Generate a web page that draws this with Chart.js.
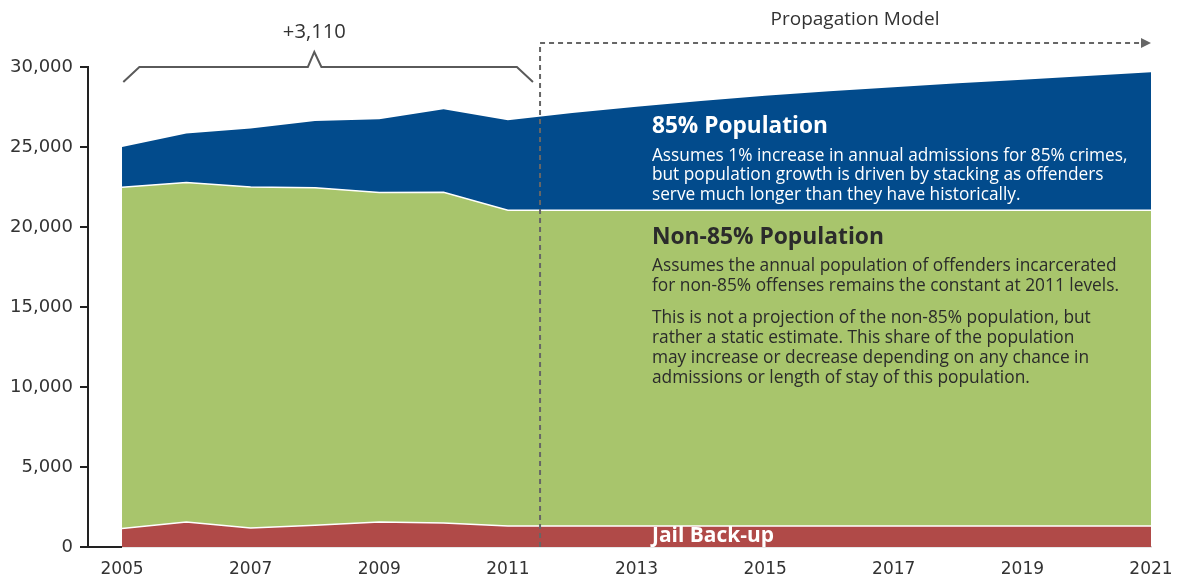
<!DOCTYPE html>
<html>
<head>
<meta charset="utf-8">
<script src="https://cdn.jsdelivr.net/npm/chart.js@4.4.0/dist/chart.umd.min.js"></script>
<style>
  html, body { margin: 0; padding: 0; background: #fff; }
  #wrap { width: 1178px; height: 580px; position: relative; }
</style>
</head>
<body>
<div id="wrap"><canvas id="chart"></canvas></div>
<script>
// years on the x axis and the ones that get a label
const years = [2005, 2006, 2007, 2008, 2009, 2010, 2011, 2012, 2013, 2014, 2015, 2016, 2017, 2018, 2019, 2020, 2021];
const xTickYears = [2005, 2007, 2009, 2011, 2013, 2015, 2017, 2019, 2021];

// stacked series (bottom to top)
const jailBackup = [1150, 1560, 1190, 1360, 1560, 1500, 1310, 1310, 1310, 1310, 1310, 1310, 1310, 1310, 1310, 1310, 1310];
const non85Population = [21330, 21220, 21310, 21100, 20590, 20670, 19740, 19740, 19740, 19740, 19740, 19740, 19740, 19740, 19740, 19740, 19740];
const pop85 = [2520, 3060, 3650, 4170, 4580, 5190, 5620, 6070, 6470, 6830, 7150, 7430, 7680, 7930, 8160, 8390, 8620];

const projectionStart = 2011.5;
const changeLabel = '+3,110';

const BLUE = '#024b8c';
const GREEN = '#a8c56c';
const RED = '#b04a48';
const INK = '#2b2b2b';
const LINE = '#5a5a5a';
const FAMILY = '"Open Sans"';

function pts(arr) {
  return years.map((yr, i) => ({ x: yr, y: arr[i] }));
}

// font string whose size makes `text` span `width` pixels
function fitFont(ctx, text, weight, width) {
  ctx.font = weight + ' 100px ' + FAMILY;
  const size = 100 * width / ctx.measureText(text).width;
  return weight + ' ' + size.toFixed(2) + 'px ' + FAMILY;
}

function drawLines(ctx, lines, x, ys, font, color) {
  ctx.font = font;
  ctx.fillStyle = color;
  ctx.textAlign = 'left';
  ctx.textBaseline = 'middle';
  lines.forEach((t, i) => ctx.fillText(t, x, ys[i]));
}

const annotations = {
  id: 'annotations',
  afterDraw(chart) {
    const ctx = chart.ctx;
    const xs = chart.scales.x, ys = chart.scales.y;
    const area = chart.chartArea;
    ctx.save();

    // short black piece of the base line before the first year
    ctx.strokeStyle = '#222';
    ctx.lineWidth = 2;
    ctx.beginPath();
    ctx.moveTo(area.left, area.bottom);
    ctx.lineTo(xs.getPixelForValue(years[0]), area.bottom);
    ctx.stroke();

    // bracket over the historical years
    const yLow = ys.getPixelForValue(29060);
    const yMid = ys.getPixelForValue(30000);
    const yPeak = ys.getPixelForValue(30940);
    ctx.strokeStyle = LINE;
    ctx.lineWidth = 2;
    ctx.beginPath();
    ctx.moveTo(xs.getPixelForValue(2005.02), yLow);
    ctx.lineTo(xs.getPixelForValue(2005.27), yMid);
    ctx.lineTo(xs.getPixelForValue(2007.89), yMid);
    ctx.lineTo(xs.getPixelForValue(2007.99), yPeak);
    ctx.lineTo(xs.getPixelForValue(2008.10), yMid);
    ctx.lineTo(xs.getPixelForValue(2011.14), yMid);
    ctx.lineTo(xs.getPixelForValue(2011.39), yLow);
    ctx.stroke();

    ctx.fillStyle = '#333';
    ctx.font = fitFont(ctx, changeLabel, 'normal', 63);
    ctx.textAlign = 'center';
    ctx.textBaseline = 'middle';
    ctx.fillText(changeLabel, xs.getPixelForValue(2007.99), 32);

    // projection marker: dashed elbow with arrow
    const px = xs.getPixelForValue(projectionStart);
    const endX = xs.getPixelForValue(years[years.length - 1]);
    const topY = 43;
    ctx.strokeStyle = '#666';
    ctx.lineWidth = 2;
    ctx.setLineDash([5, 4]);
    ctx.beginPath();
    ctx.moveTo(px, area.bottom);
    ctx.lineTo(px, topY);
    ctx.lineTo(endX - 9, topY);
    ctx.stroke();
    ctx.setLineDash([]);
    ctx.fillStyle = '#666';
    ctx.beginPath();
    ctx.moveTo(endX - 10, topY - 5);
    ctx.lineTo(endX, topY);
    ctx.lineTo(endX - 10, topY + 5);
    ctx.closePath();
    ctx.fill();

    ctx.fillStyle = '#333';
    ctx.font = fitFont(ctx, 'Propagation Model', 'normal', 169);
    ctx.textAlign = 'center';
    ctx.fillText('Propagation Model', 855, 19.5);

    // area descriptions
    const tx = xs.getPixelForValue(2013.24);
    const body85 = [
      'Assumes 1% increase in annual admissions for 85% crimes,',
      'but population growth is driven by stacking as offenders',
      'serve much longer than they have historically.'
    ];
    drawLines(ctx, ['85% Population'], tx, [126.5], fitFont(ctx, '85% Population', 'bold', 176), '#fff');
    drawLines(ctx, body85, tx, [156, 175.5, 195], fitFont(ctx, body85[0], 'normal', 476), '#fff');

    const bodyA = [
      'Assumes the annual population of offenders incarcerated',
      'for non-85% offenses remains the constant at 2011 levels.'
    ];
    const bodyB = [
      'This is not a projection of the non-85% population, but',
      'rather a static estimate. This share of the population',
      'may increase or decrease depending on any chance in',
      'admissions or length of stay of this population.'
    ];
    const bodyFont = fitFont(ctx, bodyA[1], 'normal', 467);
    drawLines(ctx, ['Non-85% Population'], tx, [238], fitFont(ctx, 'Non-85% Population', 'bold', 232), INK);
    drawLines(ctx, bodyA, tx, [266.5, 286.5], bodyFont, INK);
    drawLines(ctx, bodyB, tx, [318.5, 338.5, 358.5, 378], bodyFont, INK);

    drawLines(ctx, ['Jail Back-up'], tx, [536], fitFont(ctx, 'Jail Back-up', 'bold', 122), '#fff');

    ctx.restore();
  }
};

Chart.defaults.font.family = '"DejaVu Sans"';

new Chart(document.getElementById('chart'), {
  type: 'line',
  data: {
    datasets: [
      {
        label: 'Jail Back-up',
        data: pts(jailBackup),
        backgroundColor: RED,
        borderColor: '#ffffff',
        borderWidth: 1.5,
        fill: 'origin',
        pointRadius: 0,
        tension: 0
      },
      {
        label: 'Non-85% Population',
        data: pts(non85Population),
        backgroundColor: GREEN,
        borderColor: '#ffffff',
        borderWidth: 1.5,
        fill: '-1',
        pointRadius: 0,
        tension: 0
      },
      {
        label: '85% Population',
        data: pts(pop85),
        backgroundColor: BLUE,
        borderColor: BLUE,
        borderWidth: 0,
        fill: '-1',
        pointRadius: 0,
        tension: 0
      }
    ]
  },
  options: {
    responsive: true,
    maintainAspectRatio: false,
    animation: false,
    layout: { padding: { top: 67, right: 27, bottom: 0, left: 0 } },
    plugins: {
      legend: { display: false },
      tooltip: { enabled: false }
    },
    scales: {
      x: {
        type: 'linear',
        min: 2004.471,
        max: 2021,
        afterFit: s => { s.height = 33; s.paddingRight = 0; s.paddingLeft = 0; },
        afterBuildTicks: s => { s.ticks = xTickYears.map(v => ({ value: v })); },
        grid: { display: false, drawTicks: false },
        border: { display: true, color: '#cfcfcf', width: 1.5 },
        ticks: {
          padding: 12,
          color: '#333',
          font: { size: 17 },
          maxRotation: 0,
          autoSkip: false,
          callback: v => String(v)
        }
      },
      y: {
        stacked: true,
        min: 0,
        max: 30000,
        afterFit: s => { s.width = 88; },
        grid: { drawOnChartArea: false, drawTicks: true, tickLength: 8, color: '#222', lineWidth: 2 },
        border: { display: true, color: '#222', width: 2 },
        ticks: {
          stepSize: 5000,
          padding: 7,
          color: '#333',
          font: { size: 18 },
          callback: v => v.toLocaleString('en-US')
        }
      }
    }
  },
  plugins: [annotations]
});
</script>
</body>
</html>
